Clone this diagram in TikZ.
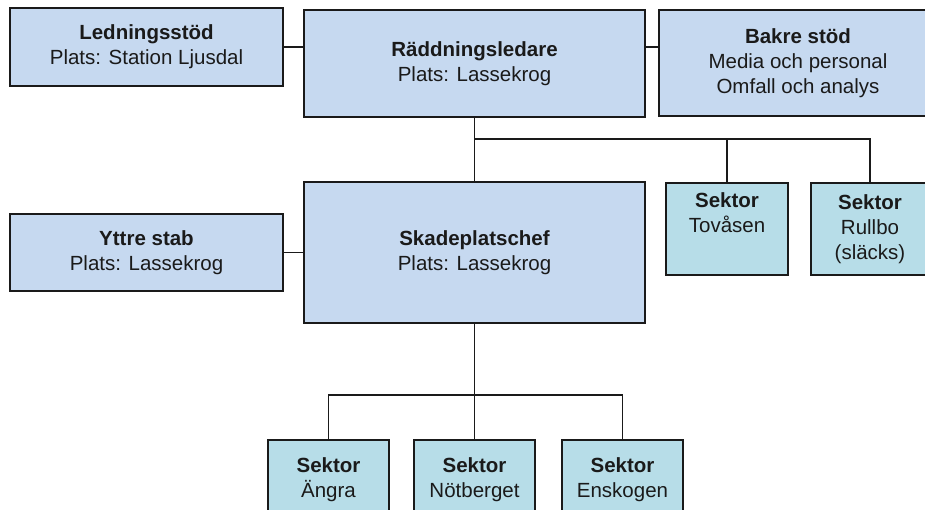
\documentclass[tikz,border=0pt]{standalone}
\usepackage{fontspec}
\setmainfont{Liberation Sans}
\definecolor{staffblue}{HTML}{C6D9F0}
\definecolor{sectorteal}{HTML}{B7DDE8}
\definecolor{edgegray}{HTML}{1A1A1A}
\begin{document}
\begin{tikzpicture}[x=1pt,y=-1pt,
  every node/.style={inner sep=0pt, outer sep=0pt},
  box/.style={draw=edgegray, line width=1.6pt, anchor=north west, align=center,
    font=\fontsize{20.5}{25}\selectfont, text=edgegray},
  staff/.style={box, fill=staffblue},
  sector/.style={box, fill=sectorteal},
  link/.style={draw=edgegray, line width=1.4pt}]
\useasboundingbox (0,0) rectangle (925,510);
\begin{scope}
\clip (0,0) rectangle (925,510);
% command level
\node[staff, minimum width=273pt, minimum height=78pt] (led) at (10,8)
  {\textbf{Ledningsstöd}\\Plats: Station Ljusdal};
\node[staff, minimum width=341pt, minimum height=107pt] (radd) at (304,10)
  {\textbf{Räddningsledare}\\Plats: Lassekrog};
\node[staff, minimum width=278pt, minimum height=106pt] (bakre) at (659,10)
  {\textbf{Bakre stöd}\\Media och personal\\Omfall och analys};
% incident site level
\node[staff, minimum width=273pt, minimum height=77pt] (yttre) at (10,214)
  {\textbf{Yttre stab}\\Plats: Lassekrog};
\node[staff, minimum width=341pt, minimum height=141pt] (skade) at (304,182)
  {\textbf{Skadeplatschef}\\Plats: Lassekrog};
\node[sector, minimum width=122pt, minimum height=92pt] (tov) at (666,183)
  {\textbf{Sektor}\\Tovåsen\\\strut};
\node[sector, minimum width=118pt, minimum height=92pt] (rull) at (811,183)
  {\textbf{Sektor}\\Rullbo\\(släcks)};
% sectors under the incident commander
\node[sector, minimum width=121pt, minimum height=80pt] (ang) at (268,440)
  {\textbf{Sektor}\\Ängra};
\node[sector, minimum width=121pt, minimum height=80pt] (not) at (414,440)
  {\textbf{Sektor}\\Nötberget};
\node[sector, minimum width=121pt, minimum height=80pt] (ens) at (562,440)
  {\textbf{Sektor}\\Enskogen};
% branch points
\coordinate (br1) at (474.5,139);
\coordinate (br2) at (474.5,395);
% connectors
\draw[link] (led.east) -- (led.east -| radd.west);
\draw[link] (radd.east |- led.east) -- (bakre.west |- led.east);
\draw[link] (yttre.east) -- (skade.west);
\draw[link] (radd.south) -- (skade.north);
\draw[link] (br1) -| (rull.north);
\draw[link] (br1 -| tov.north) -- (tov.north);
\draw[link] (skade.south) -- (br2);
\draw[link] (ang.north) |- (br2) -| (ens.north);
\draw[link] (br2) -- (not.north);
\end{scope}
\end{tikzpicture}
\end{document}
